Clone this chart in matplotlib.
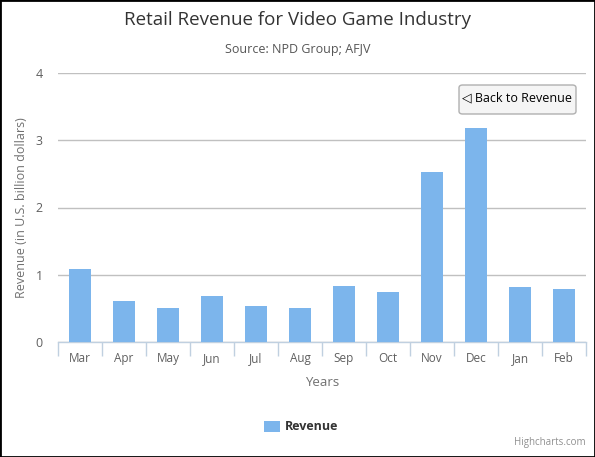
import matplotlib
matplotlib.use("Agg")
import matplotlib.pyplot as plt
from matplotlib.patches import FancyBboxPatch, Rectangle

months = ["Mar", "Apr", "May", "Jun", "Jul", "Aug", "Sep", "Oct", "Nov", "Dec", "Jan", "Feb"]
revenue = [1.09, 0.61, 0.51, 0.685, 0.54, 0.51, 0.835, 0.745, 2.53, 3.18, 0.82, 0.79]
yticks = [0, 1, 2, 3, 4]

plt.rcParams['font.family'] = ['Open Sans', 'DejaVu Sans']

W, H = 595, 457
fig = plt.figure(figsize=(W / 100, H / 100), dpi=100)
# plot area in pixels
left, right, top, bottom = 58, 586, 73, 342
ax = fig.add_axes([left / W, 1 - bottom / H, (right - left) / W, (bottom - top) / H])

x = range(len(months))
ax.bar(x, revenue, width=0.48, color="#7cb5ec", zorder=3)
ax.set_xlim(-0.5, len(months) - 0.5)
ax.set_ylim(0, 4)
ax.set_yticks(yticks)
ax.yaxis.grid(True, color="#c0c0c0", linewidth=1)
ax.set_axisbelow(True)
for s in ["top", "right", "left"]:
    ax.spines[s].set_visible(False)
ax.spines["bottom"].set_color("#c0d0e0")
ax.spines["bottom"].set_linewidth(1)
ax.tick_params(axis="y", length=0, labelsize=9, labelcolor="#606060", pad=11)
ax.set_xticks(x)
ax.set_xticklabels(months)
ax.tick_params(axis="x", length=0, labelsize=8.5, labelcolor="#606060", pad=7)
# category boundary ticks
ax.set_xticks([i - 0.5 for i in range(len(months) + 1)], minor=True)
ax.tick_params(axis="x", which="minor", length=10, color="#c0d0e0", width=1)

ax.set_xlabel("Years", fontsize=9.5, color="#707070", labelpad=8)
ax.set_ylabel("Revenue (in U.S. billion dollars)", fontsize=9, color="#707070")
ax.yaxis.set_label_coords(-(58 - 28) / (right - left), 0.5)

fig.text(0.5, 1 - 20 / H, "Retail Revenue for Video Game Industry", ha="center", va="center",
         fontsize=13.5, color="#333333")
fig.text(0.5, 1 - 49 / H, "Source: NPD Group; AFJV", ha="center", va="center",
         fontsize=9, color="#555555")

# back button
btn = FancyBboxPatch((459 / W, 1 - 114 / H), 117 / W, 29 / H,
                     boxstyle="round,pad=0,rounding_size=0.006", transform=fig.transFigure,
                     facecolor="#f5f5f5", edgecolor="#b0b0b0", linewidth=1)
fig.patches.append(btn)
fig.text(517 / W, 1 - 98 / H, "◁ Back to Revenue", ha="center", va="center",
         fontsize=9, color="#000000", family=['Open Sans', 'DejaVu Sans'])

# legend
fig.patches.append(Rectangle((264 / W, 1 - 432 / H), 16 / W, 11 / H, transform=fig.transFigure,
                             facecolor="#7cb5ec", edgecolor="none"))
fig.text(285 / W, 1 - 426 / H, "Revenue", ha="left", va="center", fontsize=9,
         fontweight="bold", color="#333333")
fig.text(586 / W, 1 - 443 / H, "Highcharts.com", ha="right", va="center", fontsize=7,
         color="#909090")

# outer border
fig.patches.append(Rectangle((0, 0), 1, 1, transform=fig.transFigure, fill=False,
                             edgecolor="#000000", linewidth=2))

fig.savefig("out.png", dpi=100)
